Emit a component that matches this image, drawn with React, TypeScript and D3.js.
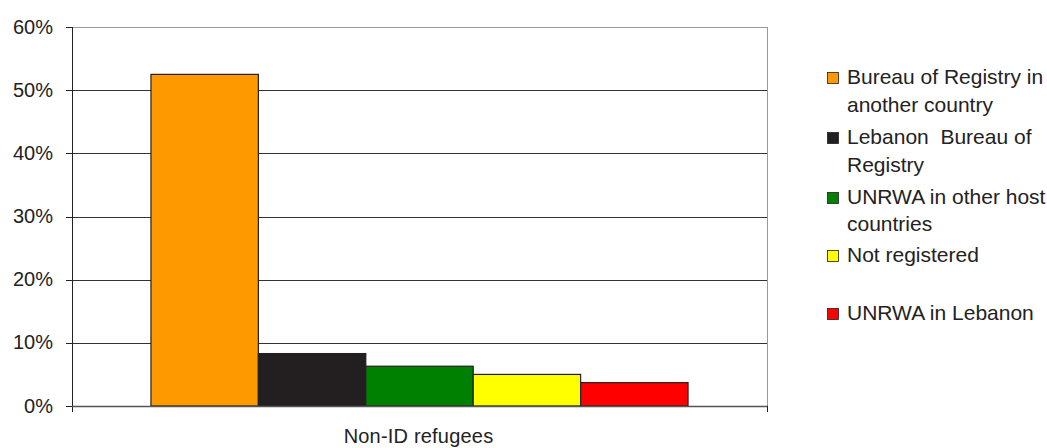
import React from "react";
import * as d3 from "d3";

const category = "Non-ID refugees";
const seriesNames = [
  "Bureau of Registry in another country",
  "Lebanon  Bureau of Registry",
  "UNRWA in other host countries",
  "Not registered",
  "UNRWA in Lebanon",
];
const legendLines = [
  ["Bureau of Registry in", "another country"],
  ["Lebanon  Bureau of", "Registry"],
  ["UNRWA in other host", "countries"],
  ["Not registered"],
  ["UNRWA in Lebanon"],
];
const seriesValues = [0.525, 0.083, 0.063, 0.05, 0.037];
const seriesColors = ["#ff9900", "#231f20", "#008000", "#ffff00", "#ff0000"];
const yTicks = [0, 0.1, 0.2, 0.3, 0.4, 0.5, 0.6];

const W = 1047;
const H = 448;
const plot = { left: 72, right: 767, top: 27, bottom: 406 };
const FONT = "'Liberation Sans', Arial, sans-serif";

// baselines of legend text rows, per item
const legendBaselines = [
  [84, 112],
  [144, 172],
  [204, 231],
  [262],
  [320],
];

export default function App() {
  const y = d3.scaleLinear().domain([0, 0.6]).range([plot.bottom, plot.top]);
  const xCat = d3
    .scaleBand<string>()
    .domain([category])
    .range([plot.left, plot.right])
    .paddingInner(0)
    .paddingOuter(0.147);
  const xSeries = d3
    .scaleBand<string>()
    .domain(seriesNames)
    .range([xCat(category)!, xCat(category)! + xCat.bandwidth()])
    .padding(0);
  const fmt = d3.format(".0%");

  return (
    <svg
      width={W}
      height={H}
      style={{ position: "absolute", left: 0, top: 0, background: "#fff" }}
      fontFamily={FONT}
    >
      {/* gridlines */}
      {yTicks.slice(1).map((t) => (
        <line
          key={t}
          x1={plot.left}
          x2={plot.right}
          y1={Math.round(y(t)) + 0.5}
          y2={Math.round(y(t)) + 0.5}
          stroke={t === 0.6 ? "#999" : "#333"}
          strokeWidth={1}
        />
      ))}
      {/* right border */}
      <line
        x1={plot.right + 0.5}
        x2={plot.right + 0.5}
        y1={plot.top}
        y2={plot.bottom}
        stroke="#999"
      />
      {/* bars */}
      {seriesNames.map((s, i) => (
        <rect
          key={s}
          x={xSeries(s)!}
          y={y(seriesValues[i])}
          width={xSeries.bandwidth()}
          height={y(0) - y(seriesValues[i])}
          fill={seriesColors[i]}
          stroke="#231f20"
          strokeWidth={1.2}
        />
      ))}
      {/* y axis */}
      <line
        x1={plot.left + 0.5}
        x2={plot.left + 0.5}
        y1={plot.top}
        y2={plot.bottom + 6}
        stroke="#222"
      />
      {yTicks.map((t) => (
        <g key={t}>
          <line
            x1={plot.left - 6}
            x2={plot.left}
            y1={Math.round(y(t)) + 0.5}
            y2={Math.round(y(t)) + 0.5}
            stroke="#222"
          />
          <text
            x={53}
            y={y(t)}
            dy="0.33em"
            textAnchor="end"
            fontSize={20}
            fill="#222"
          >
            {fmt(t)}
          </text>
        </g>
      ))}
      {/* x axis */}
      <line
        x1={plot.left}
        x2={plot.right + 1}
        y1={plot.bottom + 0.5}
        y2={plot.bottom + 0.5}
        stroke="#555"
        strokeWidth={1.5}
      />
      <line
        x1={plot.right + 0.5}
        x2={plot.right + 0.5}
        y1={plot.bottom}
        y2={plot.bottom + 6}
        stroke="#222"
      />
      <text
        x={(plot.left + plot.right) / 2 - 1}
        y={443}
        textAnchor="middle"
        fontSize={20}
        letterSpacing={0.2}
        fill="#222"
      >
        {category}
      </text>
      {/* legend */}
      {legendLines.map((lines, i) => (
        <g key={i}>
          <rect
            x={827.5}
            y={legendBaselines[i][0] - 11.5}
            width={11}
            height={11}
            fill={seriesColors[i]}
            stroke="#231f20"
            strokeWidth={0.8}
          />
          {lines.map((ln, j) => (
            <text
              key={j}
              x={847}
              y={legendBaselines[i][j]}
              fontSize={21}
              fill="#222"
              style={{ whiteSpace: "pre" }}
            >
              {ln}
            </text>
          ))}
        </g>
      ))}
    </svg>
  );
}
